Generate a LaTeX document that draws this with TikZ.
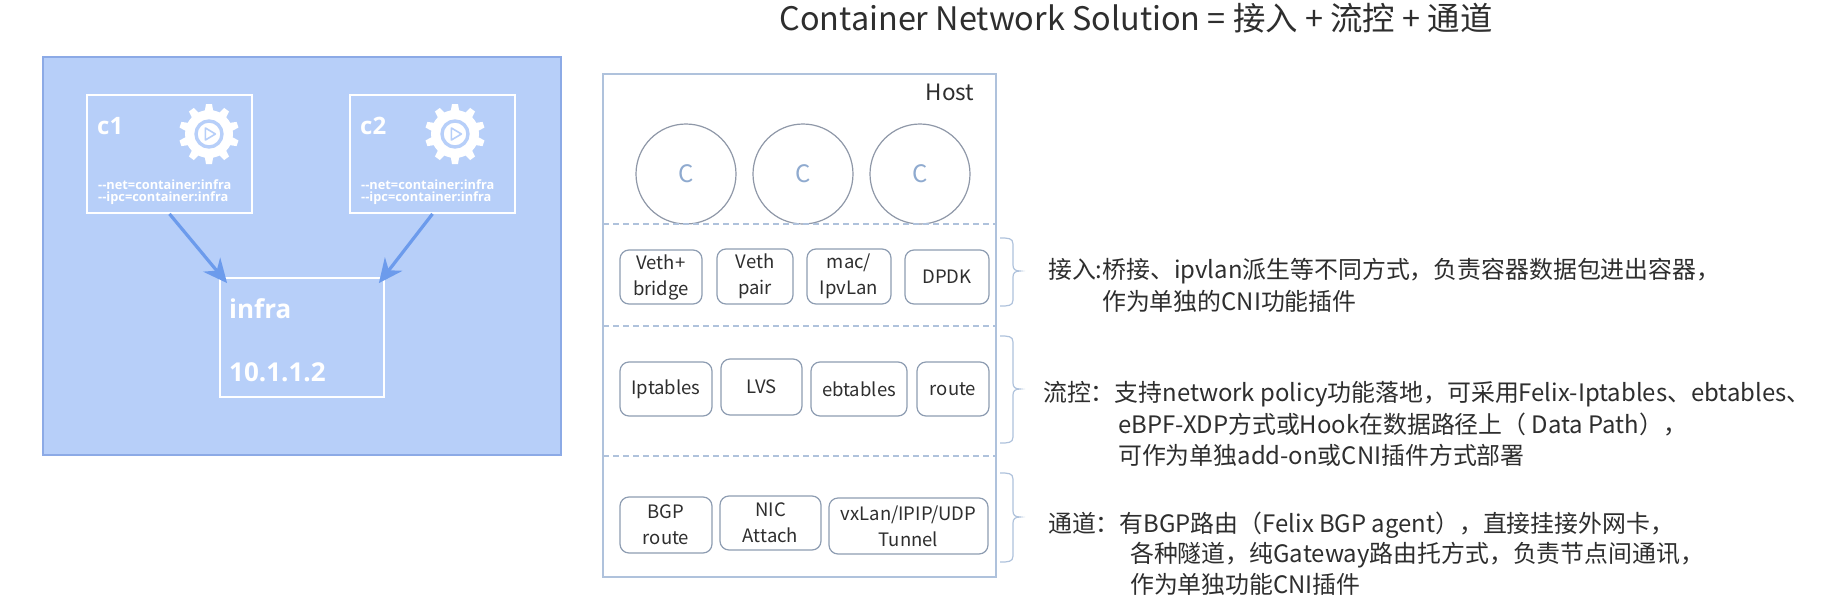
\documentclass[tikz,border=0pt]{standalone}
\usepackage{fontspec}
\usetikzlibrary{arrows.meta}
\setmainfont{Noto Sans CJK SC}
\newfontfamily\bodyfont[FakeStretch=0.995]{Noto Sans CJK SC}
\newfontfamily\panelfont{Open Sans}
\definecolor{panelfill}{HTML}{B7CFF9}
\definecolor{panelline}{HTML}{8CAAE6}
\definecolor{arrowblue}{HTML}{6C9BEC}
\definecolor{hostline}{HTML}{AFC2DC}
\definecolor{boxline}{HTML}{8E9DB2}
\definecolor{circline}{HTML}{8F98A8}
\definecolor{ctext}{HTML}{8FAACF}
\definecolor{ink}{HTML}{2E2E2E}
\tikzset{
  panelbox/.style={draw=white,line width=1.8pt,fill=none,inner sep=0pt},
  panellabel/.style={text=white,anchor=west,inner sep=0pt,font=\panelfont\bfseries\fontsize{24}{26}\selectfont},
  smalllabel/.style={text=white,anchor=west,inner sep=0pt,font=\panelfont\bfseries\fontsize{12.8}{14}\selectfont},
  biglabel/.style={text=white,anchor=west,inner sep=0pt,font=\panelfont\bfseries\fontsize{26}{28}\selectfont},
  link/.style={draw=arrowblue,line width=3.2pt,-{Stealth[length=24pt,width=22pt]}},
  hostbox/.style={draw=hostline,line width=1.2pt,inner sep=0pt},
  sep/.style={draw=hostline,line width=1.1pt,dash pattern=on 6pt off 4pt},
  ctr/.style={circle,draw=circline,line width=1.2pt,minimum size=100pt,inner sep=0pt,text=ctext,font=\fontsize{24}{28}\selectfont},
  item/.style={draw=boxline,line width=1.2pt,rounded corners=9pt,inner sep=0pt,align=center,text=ink,font=\fontsize{18.5}{26}\selectfont},
  bracecurve/.style={draw=hostline,line width=1.2pt},
  bodyline/.style={anchor=west,inner sep=0pt,text=ink,font=\bodyfont\fontsize{24}{28}\selectfont},
  gear/.pic={
    \fill[white] (0,0) circle (24);
    \foreach \a in {0,36,...,324}{
      \fill[white,rotate=\a] (-4.2,-23) -- (-3,-30) -- (3,-30) -- (4.2,-23) -- cycle;
    }
    \draw[panelfill,line width=3.4pt] (0,0) circle (13);
    \draw[panelfill,line width=1.6pt,line join=round] (-3.6,-6) -- (6.4,0) -- (-3.6,6) -- cycle;
  }
}
\begin{document}
\begin{tikzpicture}[x=1pt,y=-1pt]
\useasboundingbox (0,0) rectangle (1824,600);
\fill[white] (0,0) rectangle (1824,600);

\node[anchor=center,inner sep=0pt,text=ink,font=\fontsize{32.4}{36}\selectfont] (title) at (1136,18) {Container Network Solution = 接入 + 流控 + 通道};

% left panel
\node[draw=panelline,fill=panelfill,line width=1.2pt,minimum width=518pt,minimum height=398pt,inner sep=0pt] (panel) at (302,256) {};
\node[panelbox,minimum width=165pt,minimum height=118pt] (c1) at (169.5,154) {};
\node[panelbox,minimum width=165pt,minimum height=118pt] (c2) at (432.5,154) {};
\node[panelbox,minimum width=164pt,minimum height=119pt] (infra) at (302,337.5) {};
\pic at (209,134) {gear};
\pic at (455,134) {gear};
\node[panellabel] (c1t) at (97,126) {c1};
\node[panellabel] (c2t) at (360,126) {c2};
\node[smalllabel] (c1a) at (98,185) {--net=container:infra};
\node[smalllabel] (c1b) at (98,198) {--ipc=container:infra};
\node[smalllabel] (c2a) at (361,185) {--net=container:infra};
\node[smalllabel] (c2b) at (361,198) {--ipc=container:infra};
\node[biglabel] (inf1) at (229,309) {infra};
\node[biglabel] (inf2) at (229,372) {10.1.1.2};
\draw[link] (c1.south) -- ([shift={(8,6)}]infra.north west);
\draw[link] (c2.south) -- ([shift={(-6,6)}]infra.north east);

% host
\node[hostbox,minimum width=393pt,minimum height=503pt] (host) at (799.5,325.5) {};
\node[inner sep=0pt,anchor=center,text=ink,font=\fontsize{22.5}{26}\selectfont] (hostt) at (950,92) {Host};
\node[ctr] (ca) at (686,174) {C};
\node[ctr] (cb) at (803,174) {C};
\node[ctr] (cc) at (920,174) {C};
\coordinate (s1a) at (603,224); \coordinate (s1b) at (996,224);
\coordinate (s2a) at (603,326); \coordinate (s2b) at (996,326);
\coordinate (s3a) at (603,456); \coordinate (s3b) at (996,456);
\draw[sep] (s1a) -- (s1b);
\draw[sep] (s2a) -- (s2b);
\draw[sep] (s3a) -- (s3b);

\node[item,minimum width=82pt,minimum height=54pt] (b1) at (661,277) {Veth+\\bridge};
\node[item,minimum width=76pt,minimum height=55pt] (b2) at (755,276.5) {Veth\\pair};
\node[item,minimum width=84pt,minimum height=55pt] (b3) at (849,276.5) {mac/\\IpvLan};
\node[item,minimum width=84pt,minimum height=54pt] (b4) at (947,277) {DPDK};

\node[item,minimum width=92pt,minimum height=54pt] (f1) at (666,389) {Iptables};
\node[item,minimum width=81pt,minimum height=56pt] (f2) at (761.5,387) {LVS};
\node[item,minimum width=96pt,minimum height=54pt] (f3) at (859,389) {ebtables};
\node[item,minimum width=72pt,minimum height=54pt] (f4) at (953,389) {route};

\node[item,minimum width=92pt,minimum height=56pt] (t1) at (666,525) {BGP\\route};
\node[item,minimum width=101pt,minimum height=54pt] (t2) at (770.5,523) {NIC\\Attach};
\node[item,minimum width=159pt,minimum height=56pt] (t3) at (908.5,526) {vxLan/IPIP/UDP\\Tunnel};

% braces
\draw[bracecurve] (1000,238) .. controls (1008,238) and (1013,238) .. (1013,244) -- (1013,265) .. controls (1013,269) and (1015,271) .. (1020,271) .. controls (1015,271) and (1013,273) .. (1013,277) -- (1013,300) .. controls (1013,306) and (1008,306) .. (1000,306);
\draw[bracecurve] (1000,336) .. controls (1008,336) and (1013,336) .. (1013,342) -- (1013,383) .. controls (1013,387) and (1015,389) .. (1020,389) .. controls (1015,389) and (1013,391) .. (1013,395) -- (1013,437) .. controls (1013,443) and (1008,443) .. (1000,443);
\draw[bracecurve] (1000,473) .. controls (1008,473) and (1013,473) .. (1013,479) -- (1013,511) .. controls (1013,515) and (1015,517) .. (1020,517) .. controls (1015,517) and (1013,519) .. (1013,523) -- (1013,556) .. controls (1013,562) and (1008,562) .. (1000,562);

% body text
\node[bodyline] (l1) at (1048,271) {接入:桥接、ipvlan派生等不同方式，负责容器数据包进出容器，};
\node[bodyline] (l2) at (1102,301) {作为单独的CNI功能插件};
\node[bodyline] (l3) at (1043,394) {流控：支持network policy功能落地，可采用Felix-Iptables、ebtables、};
\node[bodyline] (l4) at (1118,425) {eBPF-XDP方式或Hook在数据路径上（ Data Path），};
\node[bodyline] (l5) at (1118,455) {可作为单独add-on或CNI插件方式部署};
\node[bodyline] (l6) at (1048,525) {通道：有BGP路由（Felix BGP agent），直接挂接外网卡，};
\node[bodyline] (l7) at (1130,555) {各种隧道，纯Gateway路由托方式，负责节点间通讯，};
\node[bodyline] (l8) at (1130,584) {作为单独功能CNI插件};
\end{tikzpicture}
\end{document}
